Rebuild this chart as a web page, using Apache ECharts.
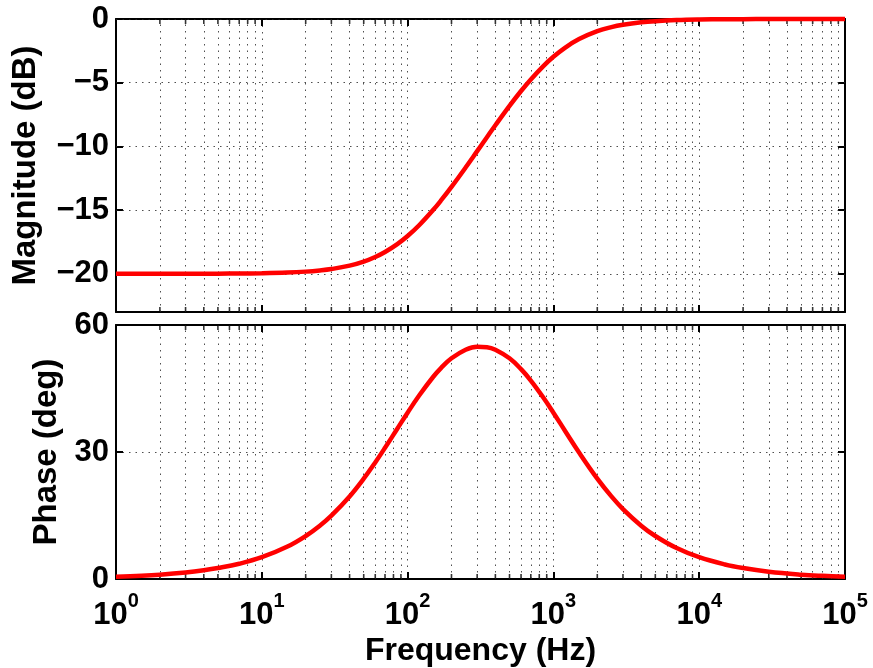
<!DOCTYPE html>
<html><head><meta charset="utf-8">
<script src="https://cdn.jsdelivr.net/npm/echarts@6/dist/echarts.min.js"></script>
<style>html,body{margin:0;padding:0;background:#fff}#c{width:873px;height:668px}</style>
</head><body><div id="c"></div>
<script>
// ---- data ----
const freqs = [1,1.5,2,3,4,5,7,10,15,20,25,30,40,50,60,70,85,100,120,150,170,200,250,300,350,400,500,600,700,850,1000,1200,1500,2000,2500,3000,4000,5000,7000,10000,15000,20000,30000,50000,70000,100000];
const magnitudeDb = [-20.00,-19.999,-19.998,-19.996,-19.993,-19.989,-19.979,-19.957,-19.904,-19.831,-19.739,-19.630,-19.362,-19.042,-18.680,-18.289,-17.670,-17.033,-16.188,-14.978,-14.225,-13.180,-11.660,-10.374,-9.280,-8.341,-6.819,-5.653,-4.742,-3.714,-2.967,-2.260,-1.578,-0.959,-0.637,-0.453,-0.260,-0.169,-0.087,-0.043,-0.019,-0.011,-0.005,-0.002,-0.001,0];
const phaseDeg = [0.52,0.77,1.03,1.55,2.06,2.58,3.60,5.14,7.67,10.16,12.60,14.98,19.51,23.70,27.53,30.99,35.51,39.29,43.35,47.78,49.89,52.13,54.16,54.87,54.77,54.16,52.13,49.57,46.88,42.93,39.29,35.04,29.88,23.70,19.51,16.53,12.60,10.16,7.31,5.14,3.43,2.58,1.72,1.03,0.74,0.52];
const decades = [1,10,100,1000,10000,100000];
const decadeExponents = ['0','1','2','3','4','5'];
const minorFreqs = [2,3,4,5,6,7,8,9,20,30,40,50,60,70,80,90,200,300,400,500,600,700,800,900,2000,3000,4000,5000,6000,7000,8000,9000,20000,30000,40000,50000,60000,70000,80000,90000];
const magTicks = [0,-5,-10,-15,-20];
const magRange = [-23, 0];
const phaseTicks = [0,30,60];
const phaseRange = [0, 60];
const xLabel = 'Frequency (Hz)';
const magLabel = 'Magnitude (dB)';
const phaseLabel = 'Phase (deg)';

// ---- chart ----
const FONT = 'Liberation Sans';
const chart = echarts.init(document.getElementById('c'), null, {renderer:'canvas'});
const dotted = {color:'#222', width:0.8, type:[1.5,5]};
const axisLineStyle = {show:true, onZero:false, lineStyle:{color:'#000', width:2}};

function xAxisDef(grid, pos, showLabel){
  return {
    type:'log', logBase:10, gridIndex:grid, position:pos, min:decades[0], max:decades[decades.length-1],
    axisLine:axisLineStyle,
    axisTick:{show:true, inside:true, length:7, lineStyle:{color:'#000', width:2}},
    splitLine:{show:pos==='bottom', lineStyle:dotted},
    axisLabel: showLabel ? {
      show:true, margin:12,
      formatter: v => {
        const i = Math.round(Math.log10(v));
        return '{b|10}{s|' + decadeExponents[i] + '}';
      },
      rich:{
        b:{fontSize:31, fontWeight:'bold', fontFamily:FONT, color:'#000', lineHeight:40, verticalAlign:'bottom'},
        s:{fontSize:20, fontWeight:'bold', fontFamily:FONT, color:'#000', lineHeight:40, verticalAlign:'top'}
      }
    } : {show:false},
    name: showLabel ? xLabel : '',
    nameLocation:'middle', nameGap:56,
    nameTextStyle:{fontSize:32, fontWeight:'bold', fontFamily:FONT, color:'#000'}
  };
}

function yAxisDef(grid, pos, range, ticks, name, gap, useCustom){
  const labelCfg = {show:pos==='left', margin:7, fontSize:31, fontWeight:'bold', fontFamily:FONT, color:'#000',
    formatter: v => (v < 0 ? '\u2212' + Math.abs(v) : String(v))};
  const tickCfg = {show:true, inside:true, length:7, lineStyle:{color:'#000', width:2}};
  const def = {
    type:'value', gridIndex:grid, position:pos, min:range[0], max:range[1],
    axisLine:axisLineStyle, axisTick:tickCfg, axisLabel:labelCfg,
    splitLine:{show:false},
    name: pos==='left' ? name : '', nameLocation:'middle', nameRotate:90, nameGap:gap,
    nameTextStyle:{fontSize:33, fontWeight:'bold', fontFamily:FONT, color:'#000'}
  };
  if (useCustom) {
    labelCfg.customValues = ticks;
    tickCfg.customValues = ticks;
  } else {
    def.interval = ticks[1]-ticks[0];
    def.splitLine = {show:pos==='left', lineStyle:dotted};
  }
  return def;
}

function minorTickSeries(xi, yi, yVal, dir){
  return {
    type:'scatter', xAxisIndex:xi, yAxisIndex:yi, silent:true, animation:false,
    symbol:'rect', symbolSize:[1.6,5], symbolOffset:[0, dir*2.5],
    itemStyle:{color:'#000'}, clip:false, z:3,
    data: minorFreqs.map(f => [f, yVal])
  };
}

const magSeriesData = freqs.map((f,i)=>[f, magnitudeDb[i]]);
const phaseSeriesData = freqs.map((f,i)=>[f, phaseDeg[i]]);

chart.setOption({
  animation:false,
  backgroundColor:'#fff',
  grid:[
    {left:116, top:19, width:729, height:293, show:false},
    {left:116, top:325, width:729, height:258, show:false}
  ],
  xAxis:[
    xAxisDef(0,'bottom',false),
    xAxisDef(0,'top',false),
    xAxisDef(1,'bottom',true),
    xAxisDef(1,'top',false)
  ],
  yAxis:[
    yAxisDef(0,'left',magRange,magTicks,magLabel,74,true),
    yAxisDef(0,'right',magRange,magTicks,'',0,true),
    yAxisDef(1,'left',phaseRange,phaseTicks,phaseLabel,50,false),
    yAxisDef(1,'right',phaseRange,phaseTicks,'',0,false)
  ],
  series:[
    {type:'line', xAxisIndex:0, yAxisIndex:0, data:magSeriesData, smooth:0.4, showSymbol:false, clip:false, z:5,
      lineStyle:{color:'#ff0000', width:4.5},
      markLine:{
        silent:true, symbol:['none','none'], label:{show:false}, animation:false, lineStyle:dotted,
        data: minorFreqs.map(f => ({xAxis:f})).concat(magTicks.map(t => ({yAxis:t})))
      }},
    {type:'line', xAxisIndex:2, yAxisIndex:2, data:phaseSeriesData, smooth:0.4, showSymbol:false, clip:false, z:5,
      lineStyle:{color:'#ff0000', width:4.5},
      markLine:{
        silent:true, symbol:['none','none'], label:{show:false}, animation:false, lineStyle:dotted,
        data: minorFreqs.map(f => ({xAxis:f}))
      }},
    minorTickSeries(0,0,magRange[0],-1),
    minorTickSeries(0,0,magRange[1],1),
    minorTickSeries(2,2,phaseRange[0],-1),
    minorTickSeries(2,2,phaseRange[1],1)
  ]
});
</script>
</body></html>
